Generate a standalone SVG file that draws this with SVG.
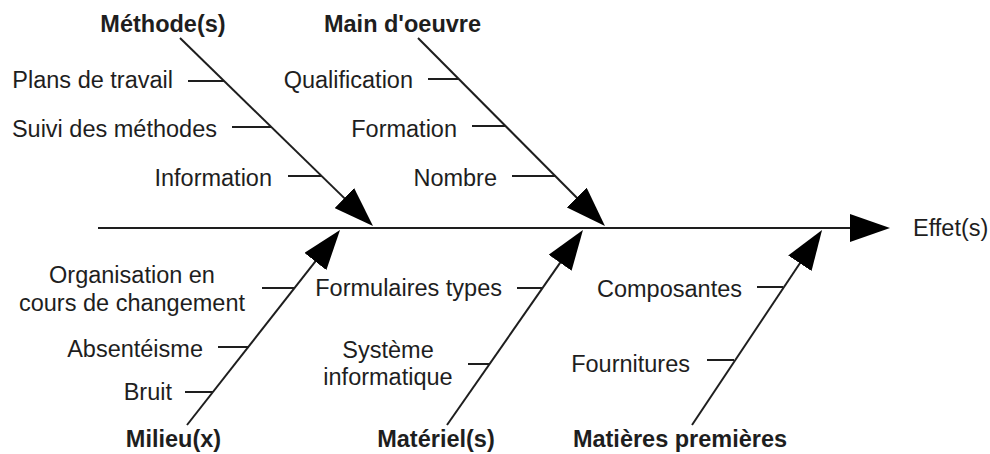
<svg xmlns="http://www.w3.org/2000/svg" width="990" height="454" viewBox="0 0 990 454">
<style>
text{font-family:"Liberation Sans",Arial,sans-serif;font-size:23.5px;fill:#1e1e1e}
.b{font-weight:bold}
.e{text-anchor:end}
.m{text-anchor:middle}
.ln{stroke:#1e1e1e;stroke-width:2;fill:none}
</style>
<defs>
<marker id="ah" markerUnits="userSpaceOnUse" markerWidth="40" markerHeight="28" viewBox="0 0 40 28" refX="10" refY="14" orient="auto">
<path d="M0,0 L40,14 L0,28 z" fill="#000"/>
</marker>
</defs>
<rect width="990" height="454" fill="#fff"/>
<g id="connectors">
<line class="ln" x1="98" y1="228" x2="860" y2="228" marker-end="url(#ah)"/>
<line class="ln" x1="180" y1="38" x2="351.5" y2="205.1" marker-end="url(#ah)"/>
<line class="ln" x1="418" y1="38" x2="583.8" y2="204.7" marker-end="url(#ah)"/>
<line class="ln" x1="187" y1="425" x2="321.5" y2="253.6" marker-end="url(#ah)"/>
<line class="ln" x1="447" y1="425" x2="565.8" y2="254.6" marker-end="url(#ah)"/>
<line class="ln" x1="692" y1="425" x2="805.4" y2="255" marker-end="url(#ah)"/>
<line class="ln" x1="188" y1="81" x2="224" y2="81"/>
<line class="ln" x1="232" y1="127" x2="271" y2="127"/>
<line class="ln" x1="288" y1="176" x2="322" y2="176"/>
<line class="ln" x1="428" y1="79" x2="459" y2="79"/>
<line class="ln" x1="472" y1="126" x2="506" y2="126"/>
<line class="ln" x1="512" y1="176" x2="556" y2="176"/>
<line class="ln" x1="262" y1="288" x2="294" y2="288"/>
<line class="ln" x1="218" y1="347" x2="249" y2="347"/>
<line class="ln" x1="185" y1="392" x2="213" y2="392"/>
<line class="ln" x1="517" y1="288" x2="542" y2="288"/>
<line class="ln" x1="468" y1="364" x2="490" y2="364"/>
<line class="ln" x1="757" y1="287" x2="783" y2="287"/>
<line class="ln" x1="707" y1="360" x2="734" y2="360"/>
</g>
<g id="effet"><text x="913" y="236">Effet(s)</text></g>
<g id="methodes">
<text class="b m" x="163" y="32">Méthode(s)</text>
<text class="e" x="173" y="88">Plans de travail</text>
<text class="e" x="217" y="137">Suivi des méthodes</text>
<text class="e" x="272" y="186">Information</text>
</g>
<g id="main-oeuvre">
<text class="b m" x="402.5" y="32">Main d'oeuvre</text>
<text class="e" x="413" y="88">Qualification</text>
<text class="e" x="457" y="137">Formation</text>
<text class="e" x="497" y="186">Nombre</text>
</g>
<g id="milieu">
<text class="b m" x="173.5" y="447">Milieu(x)</text>
<text class="m" x="132" y="283">Organisation en</text>
<text class="m" x="132" y="311">cours de changement</text>
<text class="e" x="203" y="357">Absentéisme</text>
<text class="e" x="172" y="400">Bruit</text>
</g>
<g id="materiel">
<text class="b m" x="436" y="447">Matériel(s)</text>
<text class="e" x="502" y="296">Formulaires types</text>
<text class="m" x="388" y="358">Système</text>
<text class="m" x="388" y="385">informatique</text>
</g>
<g id="matieres">
<text class="b m" x="680" y="447">Matières premières</text>
<text class="e" x="742" y="297">Composantes</text>
<text class="e" x="690" y="372">Fournitures</text>
</g>
</svg>
